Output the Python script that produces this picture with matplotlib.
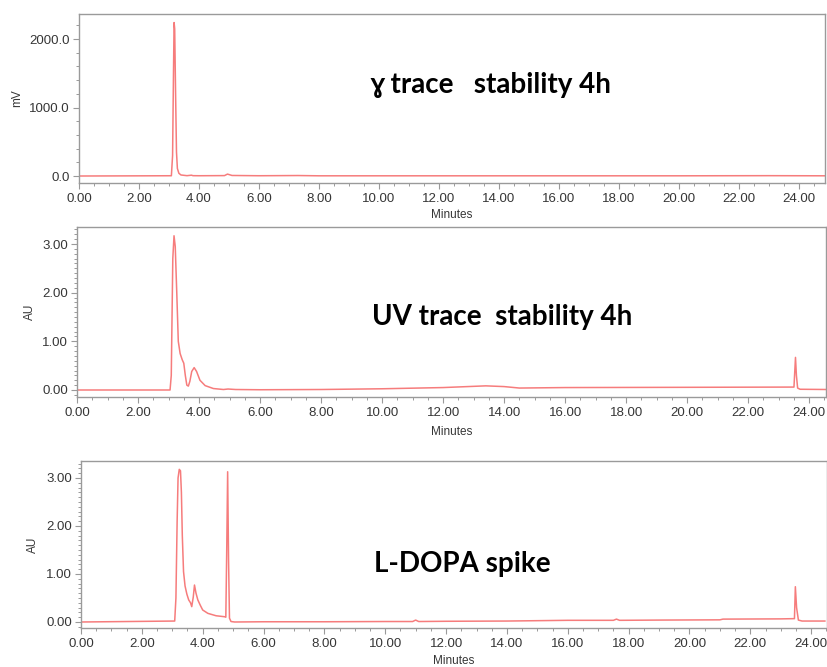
import numpy as np
import matplotlib
matplotlib.use('Agg')
import matplotlib.pyplot as plt
from matplotlib.ticker import MultipleLocator, FormatStrFormatter

# radio trace (mV)
t_gamma = [0.00, 3.08, 3.12, 3.15, 3.17, 3.19, 3.22, 3.25, 3.28, 3.33, 3.40, 3.60,
           3.75, 3.80, 4.00, 4.85, 4.95, 5.10, 6.00, 7.30, 8.00, 12.00, 16.00, 20.00,
           23.00, 24.90]
v_gamma = [0, 4, 300, 1500, 2240, 2150, 1200, 350, 110, 40, 15, 5,
           12, 5, 4, 6, 28, 8, 4, 7, 3, 3, 3, 3,
           5, 3]

# UV trace, stability 4h (AU)
t_uv = [0.00, 3.05, 3.09, 3.14, 3.18, 3.22, 3.27, 3.32, 3.38, 3.45, 3.50, 3.55,
        3.60, 3.65, 3.70, 3.76, 3.84, 3.92, 4.03, 4.20, 4.47, 4.80, 4.95, 5.20,
        6.00, 8.00, 10.00, 12.00, 13.40, 14.00, 14.50, 16.00, 20.00, 23.50, 23.55,
        23.58, 23.62, 23.70, 24.60]
v_uv = [0.00, 0.00, 0.30, 2.70, 3.17, 2.95, 2.00, 1.00, 0.75, 0.62, 0.55, 0.30,
        0.10, 0.08, 0.18, 0.38, 0.46, 0.38, 0.20, 0.09, 0.03, 0.01, 0.02, 0.01,
        0.005, 0.01, 0.025, 0.05, 0.085, 0.07, 0.04, 0.05, 0.055, 0.06, 0.67,
        0.30, 0.04, 0.015, 0.01]

# L-DOPA spiked sample (AU)
t_dopa = [0.00, 3.08, 3.12, 3.16, 3.19, 3.23, 3.27, 3.30, 3.33, 3.37, 3.42, 3.48,
          3.54, 3.60, 3.64, 3.69, 3.73, 3.78, 3.84, 3.92, 4.00, 4.17, 4.44, 4.72,
          4.76, 4.79, 4.82, 4.85, 4.88, 4.93, 5.05, 6.00, 8.00, 10.00, 10.90,
          11.00, 11.10, 12.00, 14.00, 16.00, 17.50, 17.60, 17.70, 19.00, 21.00,
          21.10, 23.00, 23.45, 23.48, 23.52, 23.58, 23.70, 24.00, 24.45]
v_dopa = [0.00, 0.02, 0.50, 2.10, 3.00, 3.18, 3.15, 2.70, 1.80, 1.05, 0.75, 0.58,
          0.46, 0.40, 0.32, 0.52, 0.77, 0.60, 0.46, 0.35, 0.25, 0.18, 0.13, 0.11,
          0.10, 1.50, 3.13, 1.30, 0.08, 0.01, 0.00, 0.005, 0.005, 0.01, 0.01,
          0.04, 0.01, 0.015, 0.02, 0.035, 0.035, 0.06, 0.035, 0.04, 0.045, 0.06,
          0.065, 0.07, 0.735, 0.30, 0.04, 0.02, 0.02, 0.02]

W, H = 827, 667
fig = plt.figure(figsize=(W / 100, H / 100), dpi=100)
fig.patch.set_facecolor('white')

tick_font = 'Liberation Sans'
line_col = '#f67c7c'
frame_col = '#9a9a9a'
text_col = '#363636'


def make_axes(left, right, top, bottom):
    return fig.add_axes([left / W, 1 - bottom / H, (right - left) / W, (bottom - top) / H])


def style(ax, xmax, ylim, ymajor, yminor, yfmt, ylabel, ylab_x, xlab_y):
    ax.set_xlim(0, xmax)
    ax.set_ylim(*ylim)
    for s in ax.spines.values():
        s.set_color(frame_col)
        s.set_linewidth(1.0)
    ax.xaxis.set_major_locator(MultipleLocator(2))
    ax.xaxis.set_minor_locator(MultipleLocator(0.5))
    ax.xaxis.set_major_formatter(FormatStrFormatter('%.2f'))
    ax.yaxis.set_major_locator(MultipleLocator(ymajor))
    ax.yaxis.set_minor_locator(MultipleLocator(yminor))
    ax.yaxis.set_major_formatter(FormatStrFormatter(yfmt))
    ax.tick_params(which='major', direction='out', length=4, width=0.8,
                   color=frame_col, labelcolor=text_col, labelsize=9.5, pad=2.5)
    ax.tick_params(which='minor', direction='out', length=2.5, width=0.7, color=frame_col)
    ax.tick_params(axis='x', which='major', pad=3.5)
    for lab in ax.get_xticklabels() + ax.get_yticklabels():
        lab.set_fontfamily(tick_font)
    ax.set_xlabel('Minutes', fontsize=8.5, color=text_col, fontfamily=tick_font, va='center')
    ax.xaxis.set_label_coords(0.5, xlab_y)
    ax.set_ylabel(ylabel, fontsize=8.5, color=text_col, fontfamily=tick_font, va='center')
    ax.yaxis.set_label_coords(ylab_x, 0.5)


note_font = ['Lato', 'DejaVu Sans']
note_size = 20

ax1 = make_axes(79, 825, 14, 183)
ax1.plot(t_gamma, v_gamma, color=line_col, lw=1.1)
style(ax1, 24.87, (-102, 2365), 1000, 200, '%.1f', 'mV', (17 - 79) / 746, -(215 - 183) / 169)
ax1.text(0.552, 0.58, 'ɣ trace   stability 4h', transform=ax1.transAxes, ha='center',
         va='center', fontsize=note_size, fontweight='bold', family=note_font, color='black')

ax2 = make_axes(77, 826, 227, 397)
ax2.plot(t_uv, v_uv, color=line_col, lw=1.1)
style(ax2, 24.55, (-0.144, 3.35), 1.0, 0.1, '%.2f', 'AU', (30 - 77) / 749, -(432 - 397) / 170)
ax2.text(0.567, 0.47, 'UV trace  stability 4h', transform=ax2.transAxes, ha='center',
         va='center', fontsize=note_size, fontweight='bold', family=note_font, color='black')

ax3 = make_axes(81, 827, 461, 628)
ax3.plot(t_dopa, v_dopa, color=line_col, lw=1.1)
style(ax3, 24.52, (-0.125, 3.354), 1.0, 0.1, '%.2f', 'AU', (33 - 81) / 746, -(661 - 628) / 167)
ax3.text(0.511, 0.383, 'L-DOPA spike', transform=ax3.transAxes, ha='center',
         va='center', fontsize=note_size, fontweight='bold', family=note_font, color='black')

fig.savefig('out.png', dpi=100, facecolor='white')
